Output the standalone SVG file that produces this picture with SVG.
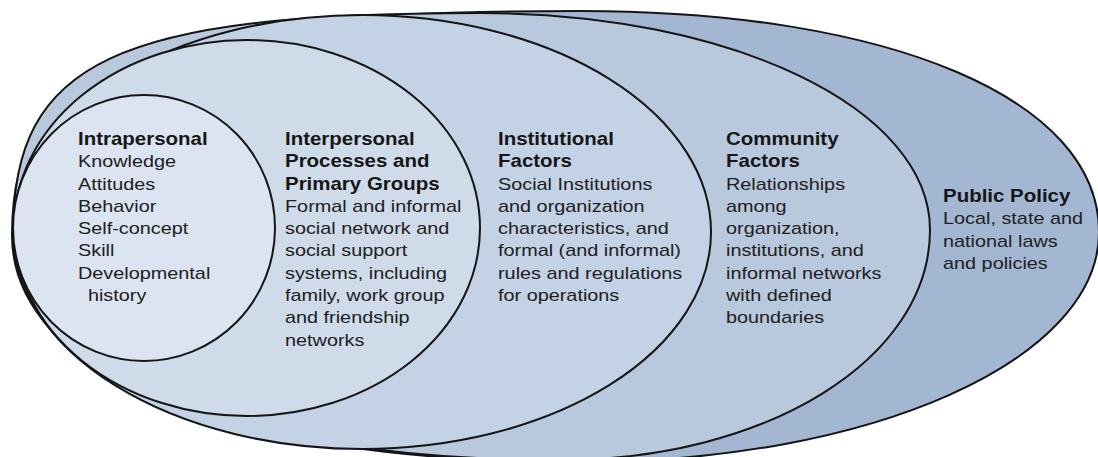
<svg xmlns="http://www.w3.org/2000/svg" width="1098" height="457" viewBox="0 0 1098 457">
  <style>
    .shape { stroke: #151515; stroke-width: 2; }
    .h { font-family: "Liberation Sans", Arial, sans-serif; font-weight: bold; font-size: 17.5px; fill: #161616; }
    .b { font-family: "Liberation Sans", Arial, sans-serif; font-size: 16px; fill: #202020; }
  </style>
  <rect width="1098" height="457" fill="#ffffff"/>

  <g id="public-policy">
    <path class="shape" fill="#a3b7d3" d="M12,235 C12,60.3 137,11 580,11 C891.4,11 1099,99.4 1099,232 C1099,360.8 870.6,462 580,462 C227.8,462 12,375.7 12,235 Z"/>
    <text class="h" transform="translate(943,0) scale(1.17,1)" x="0" y="202">Public Policy</text>
    <text class="b" transform="translate(943,0) scale(1.24,1)">
      <tspan x="0" y="224.5">Local, state and</tspan>
      <tspan x="0" y="247">national laws</tspan>
      <tspan x="0" y="269.5">and policies</tspan>
    </text>
  </g>

  <g id="community-factors">
    <path class="shape" fill="#b8c8dd" d="M13,233 C13,61.4 115.7,13 480,13 C732,13 930,108.5 930,230 C930,358.8 767.2,460 560,460 C231.8,460 13,369.2 13,233 Z"/>
    <text class="h" transform="translate(726,0) scale(1.17,1)">
      <tspan x="0" y="145">Community</tspan>
      <tspan x="0" y="167.3">Factors</tspan>
    </text>
    <text class="b" transform="translate(726,0) scale(1.24,1)">
      <tspan x="0" y="189.6">Relationships</tspan>
      <tspan x="0" y="211.9">among</tspan>
      <tspan x="0" y="234.2">organization,</tspan>
      <tspan x="0" y="256.5">institutions, and</tspan>
      <tspan x="0" y="278.8">informal networks</tspan>
      <tspan x="0" y="301.1">with defined</tspan>
      <tspan x="0" y="323.4">boundaries</tspan>
    </text>
  </g>

  <g id="institutional-factors">
    <ellipse class="shape" fill="#c4d2e5" cx="362" cy="232" rx="349" ry="217"/>
    <text class="h" transform="translate(498,0) scale(1.17,1)">
      <tspan x="0" y="145">Institutional</tspan>
      <tspan x="0" y="167.3">Factors</tspan>
    </text>
    <text class="b" transform="translate(498,0) scale(1.24,1)">
      <tspan x="0" y="189.6">Social Institutions</tspan>
      <tspan x="0" y="211.9">and organization</tspan>
      <tspan x="0" y="234.2">characteristics, and</tspan>
      <tspan x="0" y="256.5">formal (and informal)</tspan>
      <tspan x="0" y="278.8">rules and regulations</tspan>
      <tspan x="0" y="301.1">for operations</tspan>
    </text>
  </g>

  <g id="interpersonal">
    <ellipse class="shape" fill="#d0dbea" cx="247" cy="228" rx="233" ry="188"/>
    <text class="h" transform="translate(285,0) scale(1.17,1)">
      <tspan x="0" y="145">Interpersonal</tspan>
      <tspan x="0" y="167.3">Processes and</tspan>
      <tspan x="0" y="189.6">Primary Groups</tspan>
    </text>
    <text class="b" transform="translate(285,0) scale(1.24,1)">
      <tspan x="0" y="211.9">Formal and informal</tspan>
      <tspan x="0" y="234.2">social network and</tspan>
      <tspan x="0" y="256.5">social support</tspan>
      <tspan x="0" y="278.8">systems, including</tspan>
      <tspan x="0" y="301.1">family, work group</tspan>
      <tspan x="0" y="323.4">and friendship</tspan>
      <tspan x="0" y="345.7">networks</tspan>
    </text>
  </g>

  <g id="intrapersonal">
    <ellipse class="shape" fill="#dbe4f0" cx="144" cy="228" rx="131" ry="133"/>
    <text class="h" transform="translate(78,0) scale(1.17,1)" x="0" y="145">Intrapersonal</text>
    <text class="b" transform="translate(78,0) scale(1.24,1)">
      <tspan x="0" y="167.3">Knowledge</tspan>
      <tspan x="0" y="189.6">Attitudes</tspan>
      <tspan x="0" y="211.9">Behavior</tspan>
      <tspan x="0" y="234.2">Self-concept</tspan>
      <tspan x="0" y="256.5">Skill</tspan>
      <tspan x="0" y="278.8">Developmental</tspan>
      <tspan x="8" y="301.1">history</tspan>
    </text>
  </g>

  <g id="connectors"/>
</svg>
